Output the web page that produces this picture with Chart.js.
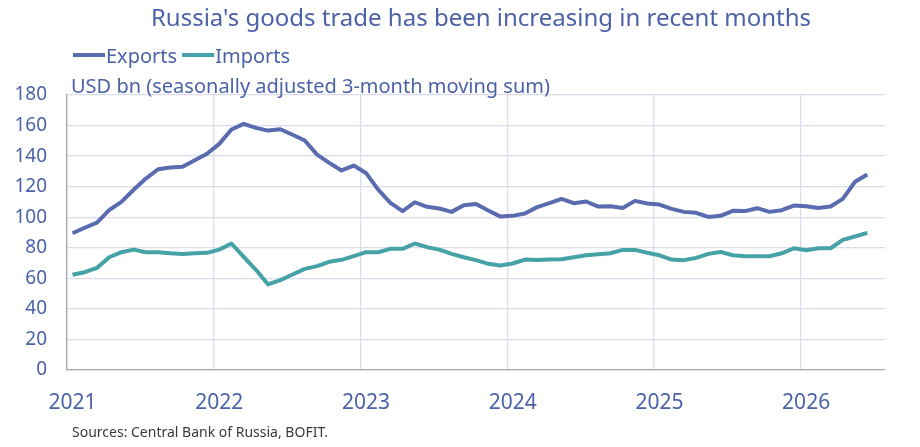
<!DOCTYPE html>
<html>
<head>
<meta charset="utf-8">
<script src="https://cdn.jsdelivr.net/npm/chart.js@4"></script>
<style>
html,body{margin:0;padding:0;background:#fff;}
#wrap{width:920px;height:447px;position:relative;}
</style>
</head>
<body>
<div id="wrap"><canvas id="c" width="920" height="447"></canvas></div>
<script>
// Monthly data, Jan 2021 - Jun 2026 (USD bn, s.a. 3-month moving sum)
const startYear = 2021;
const yearLabels = ['2021','2022','2023','2024','2025','2026'];
const yTicks = [0,20,40,60,80,100,120,140,160,180];
const exportsBn = [
  89.5, 93.1, 96.5, 104.6, 110, 118, 125.3, 131.4, 132.5, 133, 137.3, 141.5,
  148, 157.4, 161.1, 158.5, 156.7, 157.6, 154, 150.2, 141, 135.6, 130.6, 133.8,
  129, 118.1, 109.4, 104, 109.8, 106.8, 105.7, 103.5, 107.9, 108.7, 104.4, 100.4,
  100.9, 102.4, 106.6, 109.2, 112, 109.2, 110.3, 107, 107.2, 106.1, 110.7, 109,
  108.3, 105.5, 103.5, 102.9, 100.2, 100.9, 104.2, 104, 105.9, 103.5, 104.6, 107.6,
  107.2, 106.1, 107, 112, 123.2, 127.9
];
const importsBn = [
  62.3, 64, 66.8, 73.8, 77.1, 78.8, 77.1, 77, 76.4, 76, 76.4, 76.7,
  78.8, 82.8, 74.1, 65.6, 56, 58.8, 62.5, 66.2, 68, 70.8, 72.1, 74.5,
  77.1, 77.1, 79.3, 79.3, 82.8, 80.4, 78.8, 76, 73.8, 71.9, 69.5, 68.4,
  69.7, 72.3, 72, 72.3, 72.5, 73.8, 75.1, 75.8, 76.4, 78.6, 78.6, 76.7,
  75.1, 72.3, 71.9, 73.4, 76, 77.3, 75.1, 74.5, 74.5, 74.5, 76.4, 79.7,
  78.4, 79.7, 79.7, 85.2, 87.4, 89.8
];
const seriesNames = ['Exports','Imports'];
const titleText = "Russia's goods trade has been increasing in recent months";
const unitText = 'USD bn (seasonally adjusted 3-month moving sum)';
const sourceText = 'Sources: Central Bank of Russia, BOFIT.';

const FONT = "'Noto Sans', sans-serif";
const TXT = '#4b62a8';
const C_EXP = '#5a6bb0';
const C_IMP = '#45a2a6';
const GRID = '#d9dcea';
const AXIS = '#a8a8b4';
const MID = 0.45; // mid-month position

const toPts = arr => arr.map((v,i)=>({x:i+MID,y:v}));

const textPlugin = {
  id:'texts',
  afterDraw(chart){
    const ctx = chart.ctx;
    ctx.save();
    ctx.textBaseline = 'alphabetic';
    // title
    ctx.fillStyle = TXT;
    ctx.font = `24px ${FONT}`;
    ctx.textAlign = 'center';
    ctx.fillText(titleText, 481, 26);
    // legend
    ctx.textAlign = 'left';
    ctx.font = `20px ${FONT}`;
    let x = 73;
    const ly = 55;
    [[seriesNames[0],C_EXP],[seriesNames[1],C_IMP]].forEach(([n,c])=>{
      ctx.strokeStyle = c; ctx.lineWidth = 4; ctx.lineCap='butt';
      ctx.beginPath(); ctx.moveTo(x,ly); ctx.lineTo(x+32,ly); ctx.stroke();
      ctx.fillStyle = TXT;
      ctx.fillText(n, x+33, ly+8);
      x += 33 + ctx.measureText(n).width + 5;
    });
    // unit
    ctx.font = `20px ${FONT}`;
    ctx.fillText(unitText, 71, 93);
    // sources
    ctx.font = `14px ${FONT}`;
    ctx.fillStyle = '#3a3a3a';
    ctx.fillText(sourceText, 72, 437);
    ctx.restore();
  }
};

new Chart(document.getElementById('c'), {
  type:'line',
  data:{
    datasets:[
      {label:seriesNames[0], data:toPts(exportsBn), borderColor:C_EXP, borderWidth:4, pointRadius:0, tension:0, xAxisID:'x', borderJoinStyle:'round'},
      {label:seriesNames[1], data:toPts(importsBn), borderColor:C_IMP, borderWidth:4, pointRadius:0, tension:0, xAxisID:'x', borderJoinStyle:'round'}
    ]
  },
  options:{
    responsive:false,
    animation:false,
    devicePixelRatio:1,
    layout:{padding:{left:0,top:95,right:35,bottom:0}},
    plugins:{legend:{display:false},title:{display:false},tooltip:{enabled:false}},
    scales:{
      x:{
        type:'linear', position:'bottom', min:0, max:66.9,
        afterBuildTicks(s){ s.ticks = yearLabels.map((_,k)=>({value:k*12})); },
        ticks:{display:false},
        grid:{color:GRID, lineWidth:1.3, drawTicks:false},
        border:{display:true, color:AXIS, width:1.3},
        afterFit(s){ s.height = 0; }
      },
      x2:{
        type:'linear', position:'bottom', min:0, max:66.9,
        afterBuildTicks(s){ s.ticks = yearLabels.map((_,k)=>({value:k*12+MID})); },
        ticks:{color:TXT, font:{family:FONT,size:21}, padding:20, maxRotation:0, autoSkip:false,
          callback:(v)=>{ const k=Math.round((v-MID)/12); return yearLabels[k]; }},
        grid:{display:false, drawTicks:false},
        border:{display:false},
        afterFit(s){ s.height = 77; }
      },
      y:{
        min:0, max:180,
        afterBuildTicks(s){ s.ticks = yTicks.map(v=>({value:v})); },
        ticks:{color:TXT, font:{family:FONT,size:19}, padding:20},
        grid:{color:GRID, lineWidth:1.3, drawTicks:false},
        border:{display:true, color:AXIS, width:1.3},
        afterFit(s){ s.width = 67; }
      }
    }
  },
  plugins:[textPlugin]
});
</script>
</body>
</html>
